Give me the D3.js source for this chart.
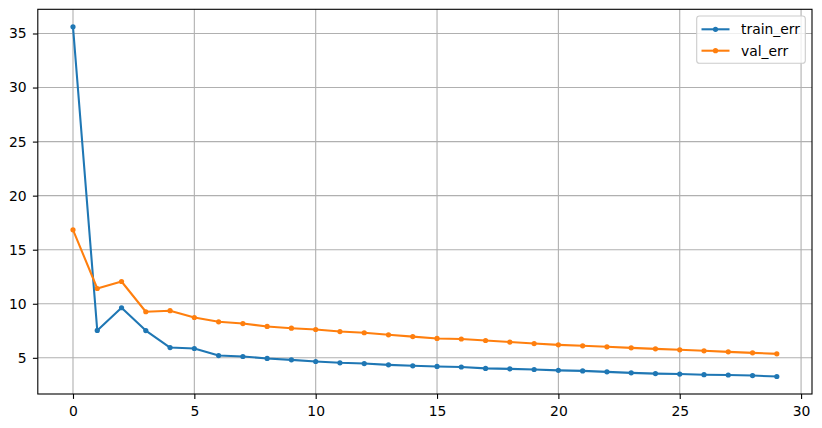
<!DOCTYPE html>
<html><head><meta charset="utf-8">
<script src="https://cdn.jsdelivr.net/npm/d3@7"></script>
<style>body{margin:0;background:#fff}svg{display:block}text{font-family:"DejaVu Sans",sans-serif}</style>
</head><body><svg id="c" width="822" height="428"></svg>
<script>
const epochs = d3.range(0, 30);
const trainErr = [35.62, 7.53, 9.63, 7.52, 5.95, 5.86, 5.21, 5.12, 4.94, 4.81, 4.66, 4.54, 4.47, 4.35, 4.26, 4.2, 4.15, 4.02, 3.98, 3.92, 3.84, 3.79, 3.70, 3.61, 3.54, 3.5, 3.44, 3.41, 3.36, 3.27];
const valErr = [16.84, 11.41, 12.06, 9.26, 9.36, 8.73, 8.33, 8.17, 7.90, 7.74, 7.62, 7.43, 7.32, 7.13, 6.96, 6.79, 6.74, 6.6, 6.46, 6.32, 6.2, 6.11, 6.02, 5.92, 5.83, 5.74, 5.65, 5.55, 5.46, 5.37];
const xTicks = [0, 5, 10, 15, 20, 25, 30];
const yTicks = [5, 10, 15, 20, 25, 30, 35];
const seriesNames = ["train_err", "val_err"];
const colors = ["#1f77b4", "#ff7f0e"];

const L = 37.8, R = 812, T = 9.3, B = 394;
const svg = d3.select("#c");
const allY = trainErr.concat(valErr);
const ymin = d3.min(allY), ymax = d3.max(allY), yp = (ymax - ymin) * 0.05;
const x = d3.scaleLinear().domain([-1.45, 30.45]).range([L, R]);
const y = d3.scaleLinear().domain([ymin - yp, ymax + yp]).range([B, T]);

// grid
const g = svg.append("g");
g.selectAll(".gx").data(xTicks).join("line").attr("x1", d => x(d)).attr("x2", d => x(d)).attr("y1", T).attr("y2", B).attr("stroke", "#b0b0b0").attr("stroke-width", 1.1);
g.selectAll(".gy").data(yTicks).join("line").attr("y1", d => y(d)).attr("y2", d => y(d)).attr("x1", L).attr("x2", R).attr("stroke", "#b0b0b0").attr("stroke-width", 1.1);

// axes
const xAxis = d3.axisBottom(x).tickValues(xTicks).tickSize(4.9).tickPadding(6.8).tickFormat(d3.format("d"));
const yAxis = d3.axisLeft(y).tickValues(yTicks).tickSize(4.9).tickPadding(6.3).tickFormat(d3.format("d"));
const ax = svg.append("g").attr("transform", `translate(0,${B})`).call(xAxis);
const ay = svg.append("g").attr("transform", `translate(${L},0)`).call(yAxis);
[ax, ay].forEach(a => {
  a.select(".domain").remove();
  a.selectAll(".tick line").attr("stroke", "#000").attr("stroke-width", 1.1);
  a.selectAll(".tick text").attr("fill", "#000").style("font-size", "13.9px").style("font-family", "DejaVu Sans");
});

// lines
const series = [trainErr, valErr];
series.forEach((vals, i) => {
  const line = d3.line().x((d, j) => x(epochs[j])).y(d => y(d));
  svg.append("path").datum(vals).attr("d", line).attr("fill", "none").attr("stroke", colors[i]).attr("stroke-width", 2.08).attr("stroke-linejoin", "round").attr("stroke-linecap", "square");
  svg.append("g").selectAll("circle").data(vals).join("circle").attr("cx", (d, j) => x(epochs[j])).attr("cy", d => y(d)).attr("r", 2.6).attr("fill", colors[i]);
});

// spines
svg.append("rect").attr("x", L).attr("y", T).attr("width", R - L).attr("height", B - T).attr("fill", "none").attr("stroke", "#000").attr("stroke-width", 1.1);

// legend
const lg = svg.append("g");
lg.append("rect").attr("x", 696.7).attr("y", 16).attr("width", 108.6).attr("height", 47.3).attr("rx", 2.8).attr("fill", "#fff").attr("fill-opacity", 0.8).attr("stroke", "#cccccc").attr("stroke-width", 1.1);
seriesNames.forEach((n, i) => {
  const yy = 29.3 + i * 21.4;
  lg.append("line").attr("x1", 701.5).attr("x2", 729.5).attr("y1", yy).attr("y2", yy).attr("stroke", colors[i]).attr("stroke-width", 2.08);
  lg.append("circle").attr("cx", 715.5).attr("cy", yy).attr("r", 2.6).attr("fill", colors[i]);
  lg.append("text").attr("x", 741).attr("y", yy).attr("dy", "0.36em").style("font-size", "13.9px").text(n);
});
</script></body></html>
